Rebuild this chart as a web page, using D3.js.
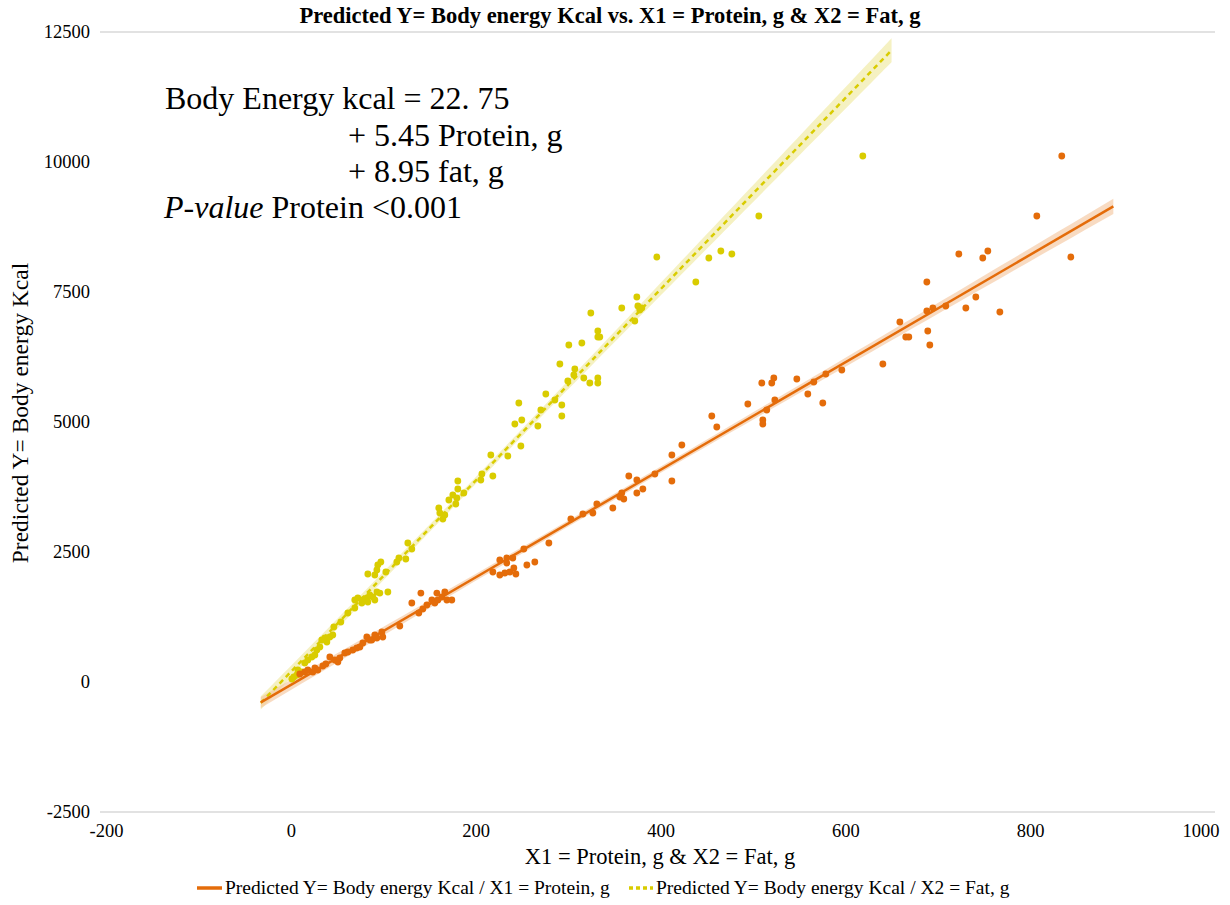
<!DOCTYPE html>
<html>
<head>
<meta charset="utf-8">
<script src="https://cdn.jsdelivr.net/npm/d3@7/dist/d3.min.js"></script>
<style>
  html, body { margin: 0; padding: 0; background: #ffffff; }
  svg { display: block; font-family: "Liberation Serif", "Times New Roman", serif; }
</style>
</head>
<body>
<svg id="chart" width="1230" height="905"></svg>
<script>
// Protein series: X1 = protein (g), Y = predicted body energy (kcal)
const proteinX = [9.7,15.1,18.4,23.8,26.0,29.2,34.6,37.9,42.2,47.6,50.9,53.0,58.4,61.7,67.1,71.4,74.7,77.9,82.2,85.5,
  87.6,90.9,93.1,98.5,99.5,117.9,130.9,138.5,142.8,140.7,147.2,152.6,155.8,158.0,159.1,163.4,166.6,168.8,174.2,218.6,
  226.1,226.1,233.7,233.7,231.6,237.0,240.2,241.3,243.5,252.1,255.4,264.0,279.2,303.0,316.0,326.8,331.1,348.4,358.1,360.3,
  356.0,365.7,374.4,374.4,380.9,393.9,412.3,412.3,423.1,455.5,460.9,494.5,509.6,510.7,510.7,515.0,520.4,522.6,523.7,547.5,
  559.4,565.9,575.6,578.9,596.2,640.6,659.0,665.4,668.7,688.2,688.2,689.2,691.4,694.7,708.7,722.8,730.4,741.2,748.7,754.2,
  767.2,807.2,834.2,844.0];
const proteinY = [154,192,231,192,269,231,308,346,481,423,385,462,558,577,615,654,673,750,865,808,
  808,904,846,962,865,1077,1519,1327,1404,1711,1481,1577,1519,1711,1577,1635,1731,1577,1577,2115,
  2346,2058,2385,2288,2096,2115,2385,2192,2077,2558,2250,2308,2673,3135,3231,3250,3423,3346,3635,3519,
  3558,3962,3885,3635,3712,4000,4365,3865,4558,5115,4904,5346,5750,5038,4962,5231,5750,5846,5423,5827,
  5538,5769,5365,5923,6000,6115,6923,6635,6635,7692,7135,6750,6481,7192,7231,8231,7192,7404,8154,8288,
  7115,8962,10115,8173];

// Fat series: X2 = fat (g), Y = predicted body energy (kcal)
const fatX = [1.1,3.2,6.5,7.6,11.9,15.1,18.4,22.7,26.0,28.1,31.4,33.5,36.8,39.0,42.2,45.4,46.5,54.1,61.7,69.2,
  69.2,72.5,76.8,77.9,82.2,83.3,85.5,88.7,90.9,93.1,105.0,83.3,90.9,93.1,94.1,97.4,102.8,96.3,114.7,116.9,
  124.4,126.6,130.9,160.1,161.2,164.5,166.6,171.0,175.3,178.5,179.6,180.7,180.7,187.2,205.6,206.7,218.6,216.4,234.8,248.9,
  242.4,246.7,249.9,267.3,270.5,275.9,285.7,293.2,293.2,291.1,299.7,300.8,306.2,307.3,314.9,317.0,323.5,324.6,332.2,332.2,
  334.3,332.2,332.2,358.1,372.2,374.4,375.5,377.6,379.8,396.0,438.2,452.3,465.3,477.2,506.4,618.9];
const fatY = [58,96,135,231,192,365,423,481,519,615,673,808,846,769,865,904,1058,1154,1327,1423,
  1577,1615,1519,1577,1615,1538,1673,1635,1577,1731,1731,2077,2058,2154,2250,2308,2115,1711,2308,2385,
  2365,2673,2558,3346,3250,3135,3212,3500,3596,3423,3538,3712,3865,3635,3885,4000,3962,4365,4346,4538,
  4962,5365,5038,4923,5231,5538,5423,5327,5115,6115,5788,6481,5904,6019,6519,5846,5750,7096,6750,6635,
  6635,5846,5750,7192,6942,7404,7231,7154,7192,8173,7692,8154,8288,8231,8962,10115];

// Linear trend lines [intercept, slope] and the x extent each one is drawn over
const proteinFit = [-56, 10.34];
const fatFit = [195, 18.39];
const proteinTrendRange = [-32.5, 890];
const fatTrendRange = [-32.5, 650];

// Axis ticks
const xTicks = [-200, 0, 200, 400, 600, 800, 1000];
const yTicks = [-2500, 0, 2500, 5000, 7500, 10000, 12500];

// Text
const titleText = "Predicted Y= Body energy Kcal vs. X1 = Protein, g & X2 = Fat, g";
const xTitle = "X1 = Protein, g & X2 = Fat, g";
const yTitle = "Predicted Y= Body energy Kcal";
const legendLabels = ["Predicted Y= Body energy Kcal / X1 = Protein, g",
                      "Predicted Y= Body energy Kcal / X2 = Fat, g"];
const equationLines = ["Body Energy kcal = 22. 75", "+ 5.45 Protein, g", "+ 8.95 fat, g"];
const pValueParts = ["P-value", " Protein <0.001"];

const ORANGE = "#E46C0A";
const YELLOW = "#D9CC00";
const SERIF = "Liberation Serif, Times New Roman, serif";

const svg = d3.select("#chart");
const x = d3.scaleLinear().domain([-200, 1000]).range([106, 1215]);
const y = d3.scaleLinear().domain([-2500, 12500]).range([812, 32]);

// Frame lines at top and bottom of the plot
[12500, -2500].forEach(v => {
  svg.append("line")
    .attr("x1", 100).attr("x2", x(1000))
    .attr("y1", y(v)).attr("y2", y(v))
    .attr("stroke", "#d9d9d9").attr("stroke-width", 1.5);
});

// Axes (labels only)
const tickFmt = d => String(d);
const xAxis = svg.append("g").attr("transform", `translate(0,${y(-2500)})`)
  .call(d3.axisBottom(x).tickValues(xTicks).tickSize(0).tickPadding(12).tickFormat(tickFmt));
const yAxis = svg.append("g").attr("transform", `translate(${x(-200)},0)`)
  .call(d3.axisLeft(y).tickValues(yTicks).tickSize(0).tickPadding(16).tickFormat(tickFmt));
[xAxis, yAxis].forEach(g => {
  g.attr("font-family", SERIF).attr("font-size", 18.5);
  g.select(".domain").remove();
  g.selectAll(".tick text").attr("fill", "#000");
});
// the last x label sits flush with the plot's right edge
xAxis.selectAll(".tick").filter(d => d === 1000).select("text")
  .attr("text-anchor", "end").attr("x", 4);

// Confidence band of a fitted line, using residuals around that line
function bandData(xs, ys, fit, range) {
  const n = xs.length;
  const xbar = d3.mean(xs);
  const sxx = d3.sum(xs, v => (v - xbar) ** 2);
  const sse = d3.sum(xs, (v, i) => (ys[i] - (fit[0] + fit[1] * v)) ** 2);
  const se = Math.sqrt(sse / (n - 2));
  const t = 1.98;
  const steps = 60;
  return d3.range(steps + 1).map(k => {
    const xv = range[0] + (range[1] - range[0]) * k / steps;
    const yv = fit[0] + fit[1] * xv;
    const h = t * se * Math.sqrt(1 / n + (xv - xbar) ** 2 / sxx);
    return { x: xv, lo: yv - h, hi: yv + h };
  });
}
const area = d3.area().x(d => x(d.x)).y0(d => y(d.lo)).y1(d => y(d.hi));

svg.append("path").datum(bandData(fatX, fatY, fatFit, fatTrendRange))
  .attr("d", area).attr("fill", "#EEE89A").attr("opacity", 0.6);
svg.append("path").datum(bandData(proteinX, proteinY, proteinFit, proteinTrendRange))
  .attr("d", area).attr("fill", "#F4C39A").attr("opacity", 0.6);

// Trend lines
const line = d3.line().x(d => x(d[0])).y(d => y(d[1]));
const trendPts = (fit, r) => r.map(v => [v, fit[0] + fit[1] * v]);
svg.append("path").datum(trendPts(fatFit, fatTrendRange))
  .attr("d", line).attr("fill", "none").attr("stroke", YELLOW)
  .attr("stroke-width", 2.5).attr("stroke-dasharray", "5,4");
svg.append("path").datum(trendPts(proteinFit, proteinTrendRange))
  .attr("d", line).attr("fill", "none").attr("stroke", ORANGE).attr("stroke-width", 2.5);

// Points
svg.append("g").selectAll("circle").data(fatX.map((v, i) => [v, fatY[i]])).join("circle")
  .attr("cx", d => x(d[0])).attr("cy", d => y(d[1])).attr("r", 3.4).attr("fill", YELLOW);
svg.append("g").selectAll("circle").data(proteinX.map((v, i) => [v, proteinY[i]])).join("circle")
  .attr("cx", d => x(d[0])).attr("cy", d => y(d[1])).attr("r", 3.4).attr("fill", ORANGE);

// Title
svg.append("text").attr("x", 610).attr("y", 23).attr("text-anchor", "middle")
  .attr("font-size", 22.5).attr("font-weight", "bold").text(titleText);

// Axis titles
svg.append("text").attr("x", 660).attr("y", 864).attr("text-anchor", "middle")
  .attr("font-size", 22.5).text(xTitle);
svg.append("text").attr("transform", "translate(28,413) rotate(-90)").attr("text-anchor", "middle")
  .attr("font-size", 23.5).text(yTitle);

// Regression equation
const eq = svg.append("g").attr("font-size", 32);
eq.append("text").attr("x", 165).attr("y", 109).text(equationLines[0]);
eq.append("text").attr("x", 348).attr("y", 146).text(equationLines[1]);
eq.append("text").attr("x", 348).attr("y", 182).text(equationLines[2]);
const pv = eq.append("text").attr("x", 164).attr("y", 218);
pv.append("tspan").attr("font-style", "italic").text(pValueParts[0]);
pv.append("tspan").text(pValueParts[1]);

// Legend
const lg = svg.append("g").attr("font-size", 19.5);
lg.append("line").attr("x1", 197).attr("x2", 222).attr("y1", 888).attr("y2", 888)
  .attr("stroke", ORANGE).attr("stroke-width", 3.5);
lg.append("text").attr("x", 225).attr("y", 894).text(legendLabels[0]);
lg.append("line").attr("x1", 629).attr("x2", 653).attr("y1", 888).attr("y2", 888)
  .attr("stroke", YELLOW).attr("stroke-width", 3.5).attr("stroke-dasharray", "4,3");
lg.append("text").attr("x", 656).attr("y", 894).text(legendLabels[1]);
</script>
</body>
</html>
